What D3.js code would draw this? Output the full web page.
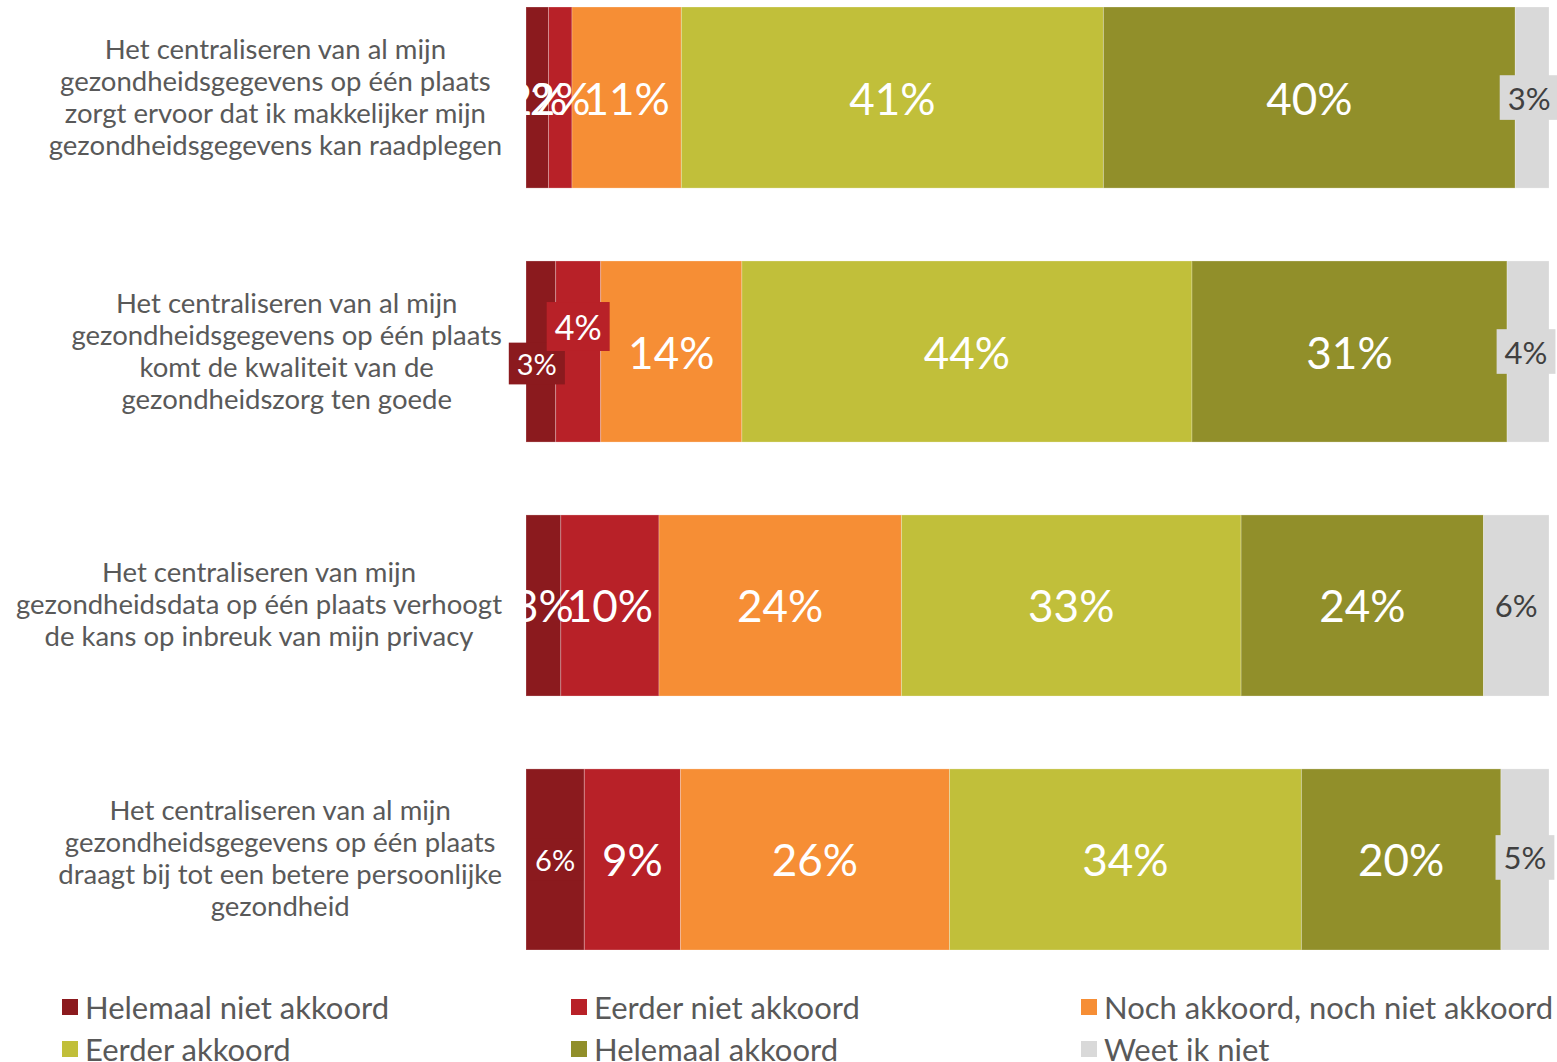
<!DOCTYPE html>
<html><head><meta charset="utf-8">
<script src="https://cdn.jsdelivr.net/npm/d3@7"></script>
<style>body{margin:0;background:#fff}svg{display:block}</style>
</head><body>
<svg id="c" width="1557" height="1062"></svg>
<script>
const categories = [
  ["Het centraliseren van al mijn","gezondheidsgegevens op één plaats","zorgt ervoor dat ik makkelijker mijn","gezondheidsgegevens kan raadplegen"],
  ["Het centraliseren van al mijn","gezondheidsgegevens op één plaats","komt de kwaliteit van de","gezondheidszorg ten goede"],
  ["Het centraliseren van mijn","gezondheidsdata op één plaats verhoogt","de kans op inbreuk van mijn privacy"],
  ["Het centraliseren van al mijn","gezondheidsgegevens op één plaats","draagt bij tot een betere persoonlijke","gezondheid"]
];
const seriesNames = ["Helemaal niet akkoord","Eerder niet akkoord","Noch akkoord, noch niet akkoord","Eerder akkoord","Helemaal akkoord","Weet ik niet"];
const helemaalNiet = [2.2, 2.9, 3.4, 5.7];
const eerderNiet   = [2.3, 4.4, 9.6, 9.4];
const noch         = [10.7, 13.8, 23.7, 26.3];
const eerderAk     = [41.3, 44.0, 33.2, 34.4];
const helemaalAk   = [40.3, 30.8, 23.7, 19.5];
const weetNiet     = [3.3, 4.1, 6.4, 4.7];
const colors = ["#8B1A1E","#B82128","#F68E35","#C1BF3A","#918F2A","#D9D9D9"];

const series = [helemaalNiet, eerderNiet, noch, eerderAk, helemaalAk, weetNiet];
// boxed small label nudges
const boxed = {"1-0":{dx:-4,dy:12,fs:29},"1-1":{dx:0,dy:-25,fs:34},"3-0":{dx:0,dy:0,fs:29},
               "0-5":{dx:-3,dy:0,fs:31},"1-5":{dx:-2,dy:0,fs:31},"3-5":{dx:0,dy:-2,fs:31}};

const svg = d3.select("#c");
const x = d3.scaleLinear().domain([0,100]).range([526,1549]);
const y = d3.scaleBand().domain(d3.range(categories.length)).range([7,950]).paddingInner(0.287).paddingOuter(0);

const rows = categories.map((c,i)=>{
  const vals = series.map(s=>s[i]);
  const tot = d3.sum(vals);
  let acc = 0;
  return vals.map((v,j)=>{ const seg={row:i,ser:j,v, x0:acc/tot*100, x1:(acc+v)/tot*100}; acc+=v; return seg; });
});
const segs = rows.flat();

svg.append("g").selectAll("rect").data(segs).join("rect")
  .attr("x",d=>x(d.x0)).attr("width",d=>x(d.x1)-x(d.x0))
  .attr("y",d=>y(d.row)).attr("height",y.bandwidth())
  .attr("fill",d=>colors[d.ser])
  .attr("stroke","#fff").attr("stroke-opacity",0.25).attr("stroke-width",1);

const lg = svg.append("g");
segs.forEach(d=>{
  const cx = (x(d.x0)+x(d.x1))/2, cy = y(d.row)+y.bandwidth()/2;
  const key = d.row+"-"+d.ser;
  const txt = Math.round(d.v)+"%";
  const dark = d.ser===5;
  const fill = dark ? "#404040" : "#fff";
  if (boxed[key]) {
    const b = boxed[key];
    const t = lg.append("text").attr("x",cx+b.dx).attr("y",cy+b.dy).attr("text-anchor","middle")
      .attr("dominant-baseline","central").attr("font-family","Lato, 'Open Sans', sans-serif")
      .attr("font-size",b.fs).attr("fill",fill).text(txt);
    const bb = t.node().getBBox();
    lg.insert("rect","text").attr("x",bb.x-8).attr("y",cy+b.dy-b.fs*0.72).attr("width",bb.width+16).attr("height",b.fs*1.44)
      .attr("fill",colors[d.ser]);
  } else {
    lg.append("text").attr("x",cx).attr("y",cy).attr("text-anchor","middle")
      .attr("dominant-baseline","central").attr("font-family","Lato, 'Open Sans', sans-serif")
      .attr("font-size",dark?31:44).attr("fill",fill).text(txt);
  }
});

const cg = svg.append("g");
categories.forEach((lines,i)=>{
  const cy = y(i)+y.bandwidth()/2;
  const g = cg.append("g");
  const lh = 32;
  const ts = lines.map((l,k)=> g.append("text").attr("y", cy + (k-(lines.length-1)/2)*lh + 9)
     .attr("font-family","Lato, sans-serif").attr("font-size",27.5).attr("fill","#595959")
     .attr("text-anchor","middle").text(l));
  const maxW = d3.max(ts, t=>t.node().getComputedTextLength());
  ts.forEach(t=>t.attr("x", 502 - maxW/2));
});

const legX = [62, 571, 1081];
const legY = [1007, 1049];
const leg = svg.append("g");
seriesNames.forEach((n,j)=>{
  const lx = legX[j%3], ly = legY[Math.floor(j/3)];
  leg.append("rect").attr("x",lx).attr("y",ly-8).attr("width",16).attr("height",16).attr("fill",colors[j]);
  leg.append("text").attr("x",lx+23).attr("y",ly).attr("dominant-baseline","central")
    .attr("font-family","Lato, sans-serif").attr("font-size",31).attr("fill","#595959").text(n);
});
</script>
</body></html>
